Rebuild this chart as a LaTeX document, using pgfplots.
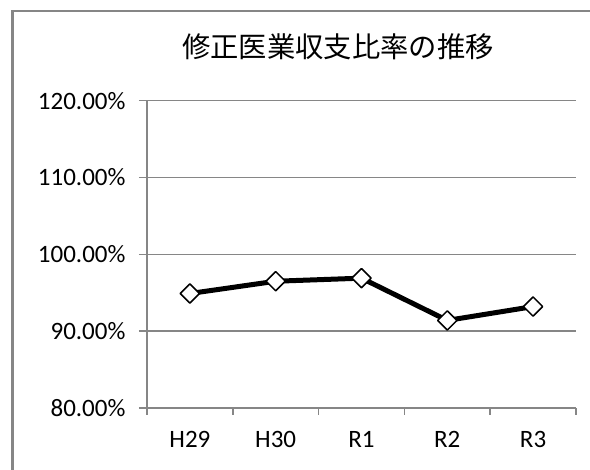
\documentclass[border=0pt]{standalone}
\usepackage{pgfplots}
\pgfplotsset{compat=1.18}
\usepackage{fontspec}
\setmainfont{Carlito}
\newfontfamily\cjk{Noto Sans CJK JP}
\definecolor{axgray}{RGB}{134,134,134}
\begin{document}
\begin{tikzpicture}[x=1pt,y=1pt]
\useasboundingbox (-147,-62) rectangle (443,408);
\draw[axgray, line width=2.5pt] (-134.5,-62) -- (-134.5,397) -- (443,397);
\node[font=\cjk\fontsize{28.3}{34}\selectfont] at (191,361) {修正医業収支比率の推移};
\begin{axis}[
  at={(0,0)}, anchor=south west,
  scale only axis, width=429pt, height=307.3pt,
  xmin=-0.5, xmax=4.5, ymin=80, ymax=120,
  axis x line*=bottom, axis y line*=left,
  axis line style={axgray, line width=1.5pt},
  ytick={80,90,100,110,120},
  yticklabels={80.00\%,90.00\%,100.00\%,110.00\%,120.00\%},
  xtick={0,1,2,3,4},
  xticklabels={H29,H30,R1,R2,R3},
  minor xtick={-0.5,0.5,1.5,2.5,3.5,4.5},
  major x tick style={draw=none},
  tick style={axgray, line width=1.5pt},
  tick align=outside,
  major tick length=8pt, minor tick length=7pt,
  ymajorgrids, grid style={axgray, line width=1.5pt},
  ticklabel style={font=\fontsize{25}{30}\selectfont},
  yticklabel style={xshift=-10pt},
  xticklabel style={yshift=-12pt},
  clip=false,
]
\addplot[black, line width=5pt, line join=round, mark=square*, mark size=6.8pt,
  mark options={rotate=45, fill=white, draw=black, line width=1.5pt, solid}]
  coordinates {(0,94.9) (1,96.5) (2,96.9) (3,91.4) (4,93.2)};
\end{axis}
\end{tikzpicture}
\end{document}
